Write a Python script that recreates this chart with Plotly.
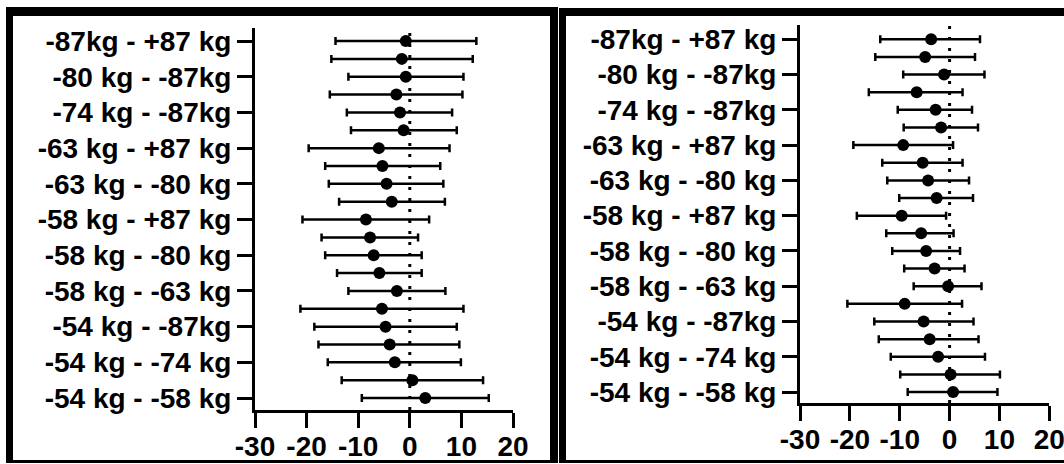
import plotly.graph_objects as go

W, H = 1064, 464

# Comparisons (top to bottom)
comparisons = [
    "-87kg - +87 kg", "-80 kg - +87 kg", "-80 kg - -87kg", "-74 kg - +87 kg",
    "-74 kg - -87kg", "-74 kg - -80 kg", "-63 kg - +87 kg", "-63 kg - -87 kg",
    "-63 kg - -80 kg", "-63 kg - -74 kg", "-58 kg - +87 kg", "-58 kg - -87 kg",
    "-58 kg - -80 kg", "-58 kg - -74 kg", "-58 kg - -63 kg", "-54 kg - +87 kg",
    "-54 kg - -87kg", "-54 kg - -80 kg", "-54 kg - -74 kg", "-54 kg - -63 kg",
    "-54 kg - -58 kg",
]
labeled = comparisons[::2]

left_mean = [-0.78, -1.55, -0.78, -2.6, -1.9, -1.2, -6.0, -5.3, -4.5, -3.5, -8.5,
             -7.7, -7.0, -5.9, -2.5, -5.4, -4.7, -3.9, -2.9, 0.5, 3.0]
left_lower = [-14.4, -15.2, -11.9, -15.5, -12.2, -11.4, -19.6, -16.4, -15.7, -13.7, -20.8,
              -17.1, -16.4, -14.1, -11.9, -21.2, -18.5, -17.7, -15.9, -13.2, -9.3]
left_upper = [12.9, 12.2, 10.4, 10.2, 8.2, 9.1, 7.7, 5.9, 6.5, 6.8, 3.75,
              1.6, 2.3, 2.3, 6.9, 10.4, 9.1, 9.6, 9.9, 14.2, 15.3]

right_mean = [-3.7, -4.9, -1.1, -6.6, -2.8, -1.7, -9.3, -5.4, -4.3, -2.6, -9.6,
              -5.7, -4.7, -3.0, -0.3, -9.0, -5.2, -4.0, -2.3, 0.2, 0.7]
right_lower = [-13.9, -14.9, -9.3, -16.2, -10.4, -9.2, -19.3, -13.5, -12.5, -10.1, -18.6,
               -12.7, -11.5, -9.1, -7.2, -20.5, -15.1, -14.2, -11.8, -9.9, -8.4]
right_upper = [6.1, 5.1, 7.0, 2.6, 4.5, 5.7, 0.7, 2.6, 3.9, 4.7, -0.7,
               0.8, 2.1, 3.0, 6.4, 2.5, 4.8, 5.8, 7.1, 10.1, 9.6]

x_ticks = [-30, -20, -10, 0, 10, 20]
x_tick_text = ["-30", "-20", "-10", "0", "10", "20"]

FONT = "Liberation Sans, Arial, sans-serif"

fig = go.Figure()


def add_panel(mean, lower, upper, xa, ya):
    fig.add_trace(go.Scatter(
        x=mean, y=comparisons, mode="markers",
        marker=dict(size=12, color="black"),
        error_x=dict(type="data", symmetric=False,
                     array=[u - m for u, m in zip(upper, mean)],
                     arrayminus=[m - l for m, l in zip(mean, lower)],
                     color="black", thickness=2.5, width=4),
        xaxis=xa, yaxis=ya, showlegend=False, hoverinfo="skip",
    ))


add_panel(left_mean, left_lower, left_upper, "x", "y")
add_panel(right_mean, right_lower, right_upper, "x2", "y2")

xcommon = dict(range=[-30, 20], tickmode="array", tickvals=x_ticks, ticktext=x_tick_text,
               tickangle=0, automargin=False, ticklabeloverflow="allow",
               ticklabelstandoff=-6,
               showline=True, linewidth=3, linecolor="black",
               ticks="outside", ticklen=15, tickwidth=3, tickcolor="black",
               showgrid=False, zeroline=False,
               tickfont=dict(family=FONT, size=28, color="black", weight="bold"))
ycommon = dict(type="category", categoryorder="array", categoryarray=comparisons,
               tickmode="array", tickvals=labeled, ticktext=labeled,
               automargin=False,
               showline=True, linewidth=3, linecolor="black",
               ticks="outside", ticklen=15, tickwidth=3, tickcolor="black",
               showgrid=False, zeroline=False,
               tickfont=dict(family=FONT, size=28, color="black", weight="bold"))

fig.update_layout(
    width=W, height=H, margin=dict(l=0, r=0, t=0, b=0, pad=0),
    paper_bgcolor="white", plot_bgcolor="white",
    xaxis=dict(domain=[255 / W, 513 / W], anchor="y", **xcommon),
    yaxis=dict(domain=[54 / H, 436 / H], anchor="x", range=[20.67, -0.73], **ycommon),
    xaxis2=dict(domain=[800 / W, 1049.3 / W], anchor="y2", **xcommon),
    yaxis2=dict(domain=[(H - 403) / H, (H - 25) / H], anchor="x2", range=[20.62, -0.81], **ycommon),
)

# dotted reference lines at 0
for xr, yr in (("x", "y domain"), ("x2", "y2 domain")):
    fig.add_shape(type="line", xref=xr, yref=yr, x0=0, x1=0, y0=0, y1=1,
                  line=dict(color="black", width=3, dash="3px,8px"), layer="below")


def px_rect(x0, y0, x1, y1):
    fig.add_shape(type="rect", xref="paper", yref="paper",
                  x0=x0 / W, x1=x1 / W, y0=1 - y1 / H, y1=1 - y0 / H,
                  fillcolor="black", line=dict(width=0))


# left panel frame
px_rect(6, 7, 13, 463)
px_rect(6, 7, 558, 16)
px_rect(550, 7, 558, 463)
px_rect(6, 460, 558, 463)
# right panel frame
px_rect(559, 8, 566, 463)
px_rect(559, 8, 1064, 16)
px_rect(559, 460, 1064, 463)

fig.write_html(
    "out.html",
    config={"displayModeBar": False},
    post_script="document.body.style.margin='0';document.body.style.overflow='hidden';",
)
